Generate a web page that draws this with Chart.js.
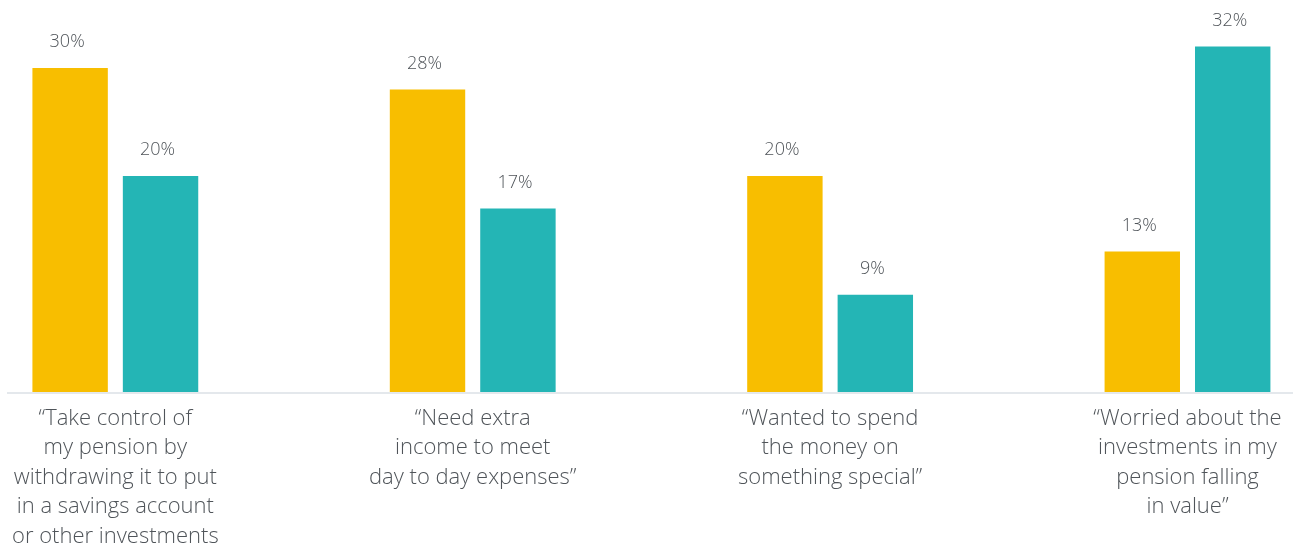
<!DOCTYPE html>
<html>
<head>
<meta charset="utf-8">
<script src="https://cdn.jsdelivr.net/npm/chart.js@4/dist/chart.umd.min.js"></script>
<style>
  html, body { margin: 0; padding: 0; background: #ffffff; overflow: hidden; }
  #wrap { position: relative; width: 1298px; height: 552px; }
</style>
</head>
<body>
<div id="wrap"><canvas id="chart"></canvas></div>
<script>
// Reasons given, one multi-line label per category
const categories = [
  ["\u201CTake control of", "my pension by", "withdrawing it to put", "in a savings account", "or other investments"],
  ["\u201CNeed extra", "income to meet", "day to day expenses\u201D"],
  ["\u201CWanted to spend", "the money on", "something special\u201D"],
  ["\u201CWorried about the", "investments in my", "pension falling", "in value\u201D"]
];

// Percentages for the two groups
const seriesA = [30, 28, 20, 13];
const seriesB = [20, 17, 9, 32];

const YELLOW = '#F8BE00';
const TEAL = '#24B5B5';
const TEXT = '#4f5459';
const FONT = "'Open Sans', 'Segoe UI', sans-serif";

// Percentage label above every bar
const valueLabels = {
  id: 'valueLabels',
  afterDatasetsDraw(chart) {
    const ctx = chart.ctx;
    ctx.save();
    ctx.font = '300 18px ' + FONT;
    ctx.fillStyle = TEXT;
    ctx.textAlign = 'center';
    ctx.textBaseline = 'middle';
    chart.data.datasets.forEach((ds, di) => {
      const meta = chart.getDatasetMeta(di);
      meta.data.forEach((bar, i) => {
        ctx.fillText(ds.data[i] + '%', bar.x - 3, bar.y - 26);
      });
    });
    ctx.restore();
  }
};

// Light baseline running under all the bars
const baseline = {
  id: 'baseline',
  beforeDatasetsDraw(chart) {
    const ctx = chart.ctx;
    const y = chart.chartArea.bottom + 1;
    ctx.save();
    ctx.strokeStyle = '#e4e8ec';
    ctx.lineWidth = 2;
    ctx.beginPath();
    ctx.moveTo(7, y);
    ctx.lineTo(chart.width - 5, y);
    ctx.stroke();
    ctx.restore();
  }
};

new Chart(document.getElementById('chart'), {
  type: 'bar',
  data: {
    labels: categories,
    datasets: [
      { label: 'Series A', data: seriesA, backgroundColor: YELLOW },
      { label: 'Series B', data: seriesB, backgroundColor: TEAL }
    ]
  },
  options: {
    responsive: true,
    maintainAspectRatio: false,
    animation: false,
    events: [],
    layout: { padding: { left: 115, right: 110.5, top: 14, bottom: 0 } },
    datasets: {
      bar: { categoryPercentage: 0.506, barPercentage: 0.834, clip: false }
    },
    plugins: {
      legend: { display: false },
      tooltip: { enabled: false }
    },
    scales: {
      x: {
        offset: false,
        grid: { display: false, drawTicks: false },
        border: { display: false },
        ticks: {
          autoSkip: false,
          maxRotation: 0,
          minRotation: 0,
          padding: 12,
          color: TEXT,
          font: { family: FONT, size: 22, weight: '300', lineHeight: 1.34 }
        },
        afterFit(scale) { scale.height = 160; }
      },
      y: {
        display: false,
        min: 0,
        max: 35
      }
    }
  },
  plugins: [valueLabels, baseline]
});
</script>
</body>
</html>
